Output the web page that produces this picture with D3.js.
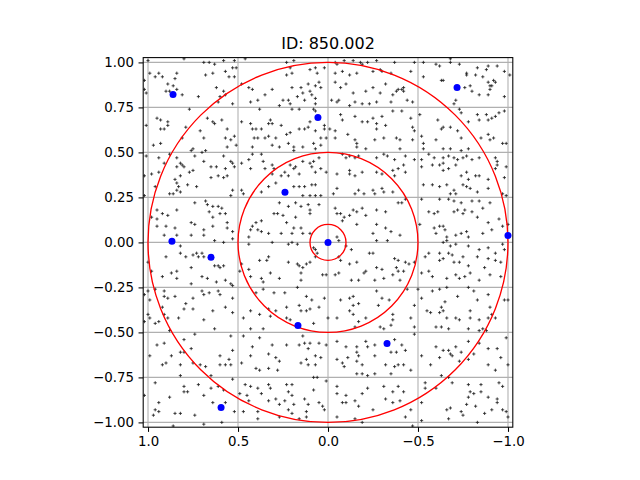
<!DOCTYPE html>
<html>
<head>
<meta charset="utf-8">
<script src="https://cdn.jsdelivr.net/npm/d3@7"></script>
<style>
  body { margin: 0; background: #fff; }
  text { font-family: "DejaVu Sans", sans-serif; }
</style>
</head>
<body>
<script>
// chart values
var title = "ID: 850.002";
var xTicks = [1.0, 0.5, 0.0, -0.5, -1.0];
var yTicks = [1.0, 0.75, 0.5, 0.25, 0.0, -0.25, -0.5, -0.75, -1.0];
var radii = [1.0, 0.5, 0.1];

var bluePoints = [[.861,.822],[-.717,.861],[.056,.694],[.239,.278],[.867,.006],[.65,-.083],
  [0,0],[-1.0,.039],[.167,-.461],[-.328,-.561],[.594,-.917]];

// background points
var noiseUpper = [
[1.00,1.01],[.80,1.02],[.69,1.00],[.66,1.00],[.63,.99],[.58,1.01],[.52,1.01],[.46,1.02],[.99,.94],[.94,.94],[.84,.94],[.68,.93],[.64,.94],[.53,.97],[.51,.97],[.55,.92],[.52,.92],[.57,.95],[1.02,.90],[.96,.92],[.92,.92],[.85,.91],[.89,.88],[.86,.87],[.84,.85],[.90,.84],[.88,.84],[.81,.82],[1.02,.85],[1.01,.83],[.72,.81],[.62,.86],[.58,.84],[.57,.82],[.60,.81],[.61,.78],[.53,.77],[.48,.88],[.44,.86],[.42,.85],[.43,.78],[.39,.79],[.38,.74],[.35,.82],[.77,.74],[.95,.69],[.93,.68],[.89,.67],[.89,.65],[.93,.63],[.91,.63],[.79,.64],[.71,.62],[.69,.58],[.67,.69],[.64,.67],[.63,.66],[.59,.68],[.56,.63],[.57,.58],[.54,.57],[.52,.59],[.81,.58],[.51,.54],[.48,.67],[.43,.66],[.42,.63],[.40,.63],[.37,.63],[.41,.58],[.39,.58],[.35,.58],[1.01,.65],[.97,.54],[.93,.55],[.76,.51],[.75,.52],[.70,.50],[.68,.51],[.56,.53],[.42,.53],[.37,.49],[1.01,.48],[.94,.47],[.88,.49],[.84,.47],[.82,.44],[.81,.43],[.84,.42],[.80,.42],[.77,.39],[.75,.40],[.74,.48],[.69,.45],[.65,.42],[.62,.42],[.58,.48],[.57,.41],[.54,.45],[.53,.44],[.52,.42],[.48,.44],[.44,.46],[.42,.49],[.36,.45],[.98,.38],[.94,.39],[.91,.44],[.85,.35],[.82,.37],[.65,.36],[.61,.37],[.58,.36],[.56,.37],[1.02,.37],[.43,.41],[.35,.41],
[.23,1.00],[.19,1.01],[-.04,1.00],[-.05,.99],[-.09,1.01],[-.14,1.01],[-.18,1.00],[-.19,.99],[-.22,1.00],[-.27,1.01],[-.30,.95],[-.29,.96],[.21,.97],[.20,.94],[.23,.93],[.10,.96],[.07,.97],[.06,.94],[.02,.97],[-.04,.94],[-.08,.95],[-.12,.93],[-.16,.94],[-.25,.95],[.31,.85],[.20,.86],[.15,.86],[.14,.83],[.11,.88],[.10,.84],[.09,.82],[.07,.87],[.05,.89],[.04,.86],[-.04,.89],[-.07,.86],[-.10,.88],[-.14,.83],[-.21,.84],[-.25,.86],[-.29,.83],[-.32,.88],[.25,.79],[.22,.79],[.21,.77],[.17,.81],[.13,.79],[.07,.80],[.07,.77],[-.02,.79],[-.05,.78],[-.06,.79],[-.12,.76],[-.15,.78],[-.19,.77],[-.23,.77],[-.27,.78],[.27,.76],[.20,.74],[.16,.74],[.08,.74],[.07,.73],[.32,.68],[.26,.65],[.33,.66],[.31,.66],[.16,.63],[.13,.63],[.11,.64],[.10,.67],[.02,.65],[.02,.63],[-.01,.63],[-.04,.62],[-.07,.71],[-.08,.68],[-.15,.70],[-.19,.67],[-.22,.67],[-.25,.69],[-.27,.66],[-.30,.70],[-.27,.63],[-.32,.65],[.33,.59],[.29,.58],[.23,.60],[.21,.61],[.07,.62],[.04,.58],[.01,.58],[-.04,.58],[-.11,.60],[-.15,.57],[-.16,.55],[-.16,.53],[-.21,.52],[-.26,.57],[-.31,.58],[.31,.54],[.27,.53],[.22,.55],[.19,.53],[.19,.51],[.14,.53],[.08,.55],[.07,.52],[.04,.54],[-.08,.49],[-.10,.47],[-.12,.48],[-.15,.47],[-.17,.48],[-.27,.47],[-.31,.49],[-.33,.48],[.31,.43],[.30,.41],[.21,.43],[.19,.41],[.18,.42],[.14,.45],[.10,.44],[.09,.42],[.08,.45],[.05,.47],[.04,.41],[.07,.39],[.31,.38],[.26,.37],[.24,.39],[.22,.37],[.16,.38],[.01,.39],[-.05,.38],[-.12,.40],[-.12,.38],[-.15,.37],[-.19,.39],[-.27,.39],[-.30,.38],
[-.37,1.00],[-.48,1.00],[-.53,1.00],[-.60,.99],[-.62,.98],[-.68,1.02],[-.68,1.00],[-.73,.99],[-.77,.94],[-.77,.93],[-.83,.97],[-.88,.96],[-.89,.98],[-.94,.98],[-.98,.95],[-1.01,.93],[-.35,.94],[-.46,.95],[-.53,.92],[-.63,.90],[-.64,.90],[-.76,.86],[-.79,.87],[-.82,.93],[-.86,.92],[-.89,.89],[-.90,.87],[-.92,.90],[-.93,.89],[-.91,.87],[-.36,.82],[-.38,.84],[-.39,.85],[-.41,.85],[-.42,.86],[-.42,.84],[-.35,.78],[-.44,.79],[-.47,.78],[-.71,.79],[-.70,.77],[-.80,.84],[-.84,.82],[-.89,.82],[-.90,.85],[-.98,.81],[-.41,.73],[-.36,.73],[-.46,.69],[-.47,.64],[-.48,.62],[-.51,.71],[-.61,.68],[-.64,.64],[-.63,.63],[-.68,.64],[-.73,.74],[-.74,.72],[-.72,.62],[-.74,.58],[-.78,.67],[-.83,.71],[-.84,.68],[-.88,.71],[-.89,.68],[-.91,.69],[-.93,.70],[-.95,.72],[-.98,.73],[-.38,.58],[-.40,.57],[-.47,.57],[-.52,.59],[-.53,.55],[-.60,.57],[-.64,.52],[-.68,.52],[-.74,.51],[-.78,.52],[-.85,.58],[-.89,.60],[-.90,.57],[-.92,.58],[-.97,.55],[-.99,.55],[-.40,.52],[-.53,.52],[-.37,.46],[-.43,.48],[-.48,.46],[-.52,.46],[-.56,.49],[-.59,.47],[-.64,.47],[-.64,.44],[-.67,.48],[-.70,.47],[-.72,.46],[-.75,.47],[-.77,.48],[-.80,.46],[-.84,.47],[-.93,.47],[-.94,.45],[-.39,.41],[-.36,.40],[-.37,.37],[-.42,.43],[-.43,.39],[-.52,.42],[-.58,.43],[-.62,.43],[-.64,.40],[-.67,.41],[-.71,.43],[-.74,.37],[-.77,.39],[-.78,.35],[-.82,.37],[-.84,.37],[-.89,.35],[-.93,.41],[-.94,.43],[-.99,.42],[-.98,.36]
];

var noiseMiddle = [
[.96,.31],[.84,.33],[.83,.31],[.78,.32],[.73,.31],[.84,.29],[.86,.27],[.82,.28],[.88,.27],[1.02,.26],[.74,.22],[.68,.23],[.67,.21],[.64,.20],[.61,.20],[.59,.19],[.54,.26],[.53,.29],[.48,.29],[.47,.27],[.37,.28],[.95,.18],[.98,.14],[.95,.13],[.92,.16],[.89,.15],[.84,.18],[.66,.17],[.64,.14],[.60,.16],[.57,.16],[.95,.09],[.90,.09],[.85,.08],[.76,.11],[.74,.10],[.69,.07],[.69,.04],[.64,.09],[.56,.11],[.56,.08],[.53,.06],[.40,.11],[.37,.12],[.43,.07],[.42,.09],[.39,.07],[.37,.06],[.91,.04],[.84,.04],[.76,.04],[.63,.01],[.58,.00],[.53,.02],[.44,.03],[.44,-.01],[.82,-.02],[.82,-.06],[.79,-.08],[.75,-.07],[.73,-.06],[.72,-.08],[.70,-.06],[.69,-.08],[.90,-.08],[.63,-.13],[.61,-.13],[.60,-.14],[.58,-.13],[.48,-.12],[.44,-.15],[.38,-.10],[.34,-.10],[1.00,-.11],[.98,-.16],[.92,-.19],[.87,-.17],[.84,-.16],[.84,-.20],[.76,-.14],[.70,-.19],[.67,-.20],[.62,-.22],[.57,-.21],[.54,-.23],[.49,-.16],[.43,-.19],[.37,-.20],[.36,-.22],[1.00,-.27],[.96,-.26],[.91,-.27],[.91,-.30],[.89,-.31],[.85,-.30],[1.02,-.29],[.99,-.32],[.76,-.23],[.75,-.31],[.70,-.27],[.69,-.29],[.66,-.28],[.61,-.27],[.60,-.29],[.53,-.31],[.53,-.24],[.40,-.28],[.36,-.26],[.79,-.34],
[.33,.31],[.29,.33],[.19,.31],[.16,.31],[.13,.31],[.09,.32],[.07,.32],[-.05,.30],[-.03,.27],[-.15,.27],[-.17,.29],[-.20,.27],[-.25,.29],[-.26,.27],[-.30,.30],[-.31,.28],[.14,.26],[.10,.26],[.07,.26],[.04,.26],[.27,.22],[.22,.20],[.18,.22],[.15,.20],[.11,.21],[.10,.18],[.05,.21],[.30,.16],[.28,.16],[.25,.15],[.18,.14],[.10,.16],[-.04,.19],[-.05,.16],[-.07,.16],[-.09,.14],[-.12,.15],[-.14,.18],[-.16,.17],[-.19,.19],[-.21,.15],[-.27,.18],[-.32,.17],[.23,.11],[.19,.08],[.15,.08],[.14,.05],[.10,.05],[.26,.05],[.20,.05],[.33,.05],[-.08,.12],[-.16,.10],[-.25,.05],[-.27,.10],[-.32,.08],[.31,.00],[.22,-.01],[.20,.00],[.17,-.01],[.08,-.03],[.07,-.04],[.06,-.06],[-.05,.03],[-.06,.01],[-.10,-.02],[-.13,-.04],[-.23,-.06],[-.25,-.06],[-.27,.01],[-.33,.01],[.33,-.08],[.22,-.11],[.17,-.12],[.16,-.13],[.14,-.14],[.12,-.12],[.10,-.11],[.07,-.08],[-.06,-.08],[-.07,-.10],[-.12,-.12],[-.16,-.11],[-.20,-.17],[-.27,-.14],[-.30,-.15],[.32,-.17],[.27,-.20],[.15,-.17],[.15,-.21],[.03,-.18],[.01,-.18],[-.04,-.18],[-.06,-.17],[-.13,-.21],[-.17,-.21],[-.21,-.16],[-.26,-.21],[-.31,-.20],[.30,-.28],[.24,-.28],[.17,-.25],[.12,-.30],[.09,-.32],[.02,-.31],[-.07,-.32],[-.12,-.31],[-.14,-.30],[-.27,-.27],[-.30,-.31],[-.34,-.32],[-.17,-.34],
[-.36,.28],[-.53,.32],[-.58,.32],[-.62,.31],[-.66,.32],[-.70,.29],[-.68,.27],[-.71,.27],[-.75,.32],[-.77,.31],[-.79,.30],[-.83,.28],[-.89,.30],[-.97,.27],[-.99,.26],[-.39,.22],[-.41,.22],[-.43,.24],[-.52,.24],[-.62,.24],[-.67,.24],[-.70,.23],[-.74,.22],[-.80,.23],[-.84,.23],[-.86,.19],[-.90,.22],[-.56,.17],[-.59,.16],[-.61,.17],[-.70,.17],[-.72,.18],[-.75,.16],[-.76,.18],[-.80,.17],[-.83,.14],[-.35,.06],[-.40,.04],[-.51,.10],[-.59,.08],[-.62,.09],[-.64,.09],[-.60,.05],[-.65,.07],[-.66,.03],[-.71,.04],[-.74,.05],[-.77,.06],[-.78,.03],[-.86,.05],[-.89,.11],[-.91,.07],[-.95,.13],[-.97,.09],[-1.00,.10],[-.64,.00],[-.66,.01],[-.56,-.06],[-.62,-.06],[-.67,-.06],[-.68,-.02],[-.71,-.01],[-.78,-.02],[-.84,-.04],[-.89,-.03],[-.93,-.06],[-.97,-.01],[-.98,-.04],[-.37,-.09],[-.39,-.10],[-.43,-.11],[-.45,-.12],[-.48,-.11],[-.38,-.14],[-.39,-.16],[-.42,-.16],[-.36,-.18],[-.40,-.21],[-.54,-.08],[-.62,-.10],[-.64,-.09],[-.69,-.07],[-.70,-.11],[-.73,-.11],[-.75,-.08],[-.78,-.13],[-.83,-.08],[-.89,-.09],[-.93,-.10],[-.96,-.11],[-.52,-.17],[-.56,-.16],[-.58,-.19],[-.66,-.20],[-.71,-.18],[-.73,-.20],[-.76,-.19],[-.79,-.17],[-.84,-.21],[-.87,-.14],[-.90,-.18],[-.96,-.19],[-.44,-.26],[-.50,-.26],[-.58,-.27],[-.62,-.26],[-.66,-.25],[-.72,-.30],[-.78,-.25],[-.81,-.27],[-.83,-.32],[-.89,-.29],[-.98,-.32],[-1.00,-.32],[-.52,-.31],[-.65,-.33]
];

var noiseLower = [
[1.00,-.40],[.99,-.42],[.96,-.45],[.94,-.44],[.92,-.36],[.91,-.40],[.89,-.42],[.80,-.37],[.75,-.37],[.69,-.43],[.64,-.38],[.57,-.36],[.53,-.39],[.47,-.42],[.43,-.38],[.38,-.40],[.36,-.48],[1.02,-.44],[.88,-.49],[.83,-.42],[.95,-.57],[.91,-.56],[.80,-.54],[.74,-.51],[.63,-.48],[.54,-.52],[.47,-.52],[.43,-.48],[.38,-.53],[.42,-.58],[.99,-.63],[.92,-.68],[.90,-.67],[.87,-.63],[.82,-.61],[.80,-.61],[.76,-.59],[.82,-.68],[.75,-.67],[.71,-.68],[.68,-.69],[.60,-.63],[.60,-.68],[.57,-.68],[.55,-.65],[.53,-.60],[.54,-.68],[.48,-.67],[.43,-.63],[.40,-.70],[.38,-.71],[.82,-.74],[.65,-.74],[.96,-.78],[.88,-.86],[.80,-.80],[.80,-.83],[.78,-.83],[.72,-.79],[.69,-.85],[.65,-.81],[.61,-.80],[.58,-.82],[.53,-.76],[.46,-.79],[.43,-.80],[.39,-.81],[.37,-.84],[.49,-.84],[.45,-.85],[.44,-.88],[1.02,-.85],[.94,-.89],[.96,-.93],[.94,-.94],[.85,-.95],[.82,-.95],[.74,-.96],[.64,-.89],[.57,-.89],[.52,-.94],[.47,-.94],[.39,-.94],[.39,-.98],[.97,-.96],[.86,-1.02],[.59,-1.00],[.69,-1.01],
[.33,-.37],[.23,-.36],[.16,-.35],[.15,-.38],[.12,-.38],[.10,-.37],[.05,-.36],[.00,-.42],[-.05,-.42],[-.12,-.38],[-.14,-.35],[-.14,-.40],[-.17,-.44],[-.21,-.42],[-.28,-.35],[-.29,-.47],[-.31,-.48],[.32,-.41],[.29,-.38],[.23,-.42],[.21,-.43],[.08,-.45],[.14,-.52],[-.15,-.47],[.31,-.57],[.23,-.57],[.16,-.57],[.13,-.56],[.10,-.56],[.11,-.59],[.05,-.56],[.01,-.57],[-.05,-.55],[-.10,-.58],[-.16,-.58],[-.21,-.55],[-.22,-.58],[-.26,-.57],[.33,-.62],[.29,-.64],[.27,-.66],[.15,-.67],[.12,-.65],[.11,-.68],[.07,-.63],[.04,-.64],[.07,-.68],[-.05,-.65],[-.08,-.67],[-.09,-.69],[-.11,-.64],[-.16,-.61],[-.17,-.63],[-.19,-.68],[-.26,-.63],[-.32,-.68],[-.16,-.66],[.33,-.70],[.28,-.71],[.08,-.75],[.06,-.75],[-.16,-.73],[-.19,-.73],[-.22,-.74],[-.26,-.73],[.33,-.79],[.32,-.81],[.23,-.79],[.20,-.79],[.22,-.83],[.20,-.85],[.27,-.90],[.29,-.87],[.24,-.88],[.19,-.90],[.13,-.87],[.11,-.90],[.08,-.82],[.05,-.89],[.03,-.91],[.01,-.77],[-.05,-.80],[-.05,-.84],[-.08,-.89],[-.10,-.89],[-.10,-.85],[-.15,-.88],[-.17,-.91],[-.19,-.84],[-.22,-.81],[-.25,-.93],[-.31,-.80],[-.32,-.87],[.33,-.88],[.22,-.93],[.20,-.95],[.12,-.94],[.12,-.97],[.02,-.93],[-.05,-.97],[-.15,-.98],[-.19,-1.00],[.16,-.98],[.27,-.97],
[-.36,-.40],[-.36,-.43],[-.35,-.46],[-.46,-.42],[-.48,-.35],[-.48,-.47],[-.55,-.38],[-.57,-.39],[-.62,-.39],[-.63,-.36],[-.64,-.38],[-.60,-.47],[-.63,-.47],[-.67,-.48],[-.66,-.42],[-.71,-.42],[-.73,-.43],[-.79,-.38],[-.79,-.42],[-.84,-.43],[-.89,-.42],[-.90,-.36],[-.91,-.40],[-.93,-.42],[-.78,-.48],[-.84,-.49],[-.86,-.48],[-.88,-.49],[-.48,-.51],[-.37,-.54],[-.41,-.57],[-.35,-.61],[-.38,-.61],[-.43,-.60],[-.52,-.63],[-.60,-.58],[-.62,-.64],[-.64,-.60],[-.67,-.60],[-.68,-.62],[-.69,-.63],[-.71,-.58],[-.74,-.61],[-.78,-.55],[-.84,-.56],[-.89,-.59],[-.94,-.59],[-.96,-.64],[-.99,-.53],[-1.00,-.68],[-.93,-.71],[-.89,-.68],[-.81,-.62],[-.37,-.69],[-.39,-.68],[-.42,-.68],[-.35,-.73],[-.46,-.71],[-.57,-.68],[-.63,-.74],[-.67,-.75],[-.73,-.66],[-.78,-.65],[-.39,-.80],[-.36,-.83],[-.42,-.83],[-.54,-.78],[-.54,-.81],[-.60,-.81],[-.69,-.78],[-.78,-.79],[-.79,-.83],[-.81,-.84],[-.85,-.83],[-.85,-.79],[-.95,-.78],[-.97,-.80],[-.89,-.86],[-.94,-.87],[-.36,-.89],[-.40,-.88],[-.46,-.93],[-.52,-.89],[-.66,-.93],[-.68,-.92],[-.74,-.94],[-.75,-.96],[-.78,-.86],[-.77,-.90],[-.82,-.91],[-.87,-.95],[-.91,-.93],[-.94,-.89],[-.97,-.93],[-.99,-.94],[-1.00,-.97],[-.43,-.97],[-.47,-1.02],[-.52,-.99],[-.67,-.98],[-.83,-1.00]
];

var noise = noiseUpper.concat(noiseMiddle, noiseLower);

// layout (matplotlib default figure, square axes)
var svgWidth = 640;
var svgHeight = 480;
var box = { left: 143.2, top: 57.6, size: 369.6 };
var lim = 1.0267;
var pt = 96 / 72;

var svg = d3.select("body")
  .append("svg")
  .attr("width", svgWidth)
  .attr("height", svgHeight);

svg.append("rect").attr("width", svgWidth).attr("height", svgHeight).attr("fill", "#fff");

var x = d3.scaleLinear().domain([lim, -lim]).range([box.left, box.left + box.size]);
var y = d3.scaleLinear().domain([-lim, lim]).range([box.top + box.size, box.top]);

svg.append("clipPath").attr("id", "plotClip")
  .append("rect")
  .attr("x", box.left).attr("y", box.top)
  .attr("width", box.size).attr("height", box.size);

// grid
var grid = svg.append("g").attr("stroke", "#b0b0b0").attr("stroke-width", 0.8 * pt);
grid.selectAll(".gx").data(xTicks).enter().append("line")
  .attr("x1", d => x(d)).attr("x2", d => x(d))
  .attr("y1", box.top).attr("y2", box.top + box.size);
grid.selectAll(".gy").data(yTicks).enter().append("line")
  .attr("y1", d => y(d)).attr("y2", d => y(d))
  .attr("x1", box.left).attr("x2", box.left + box.size);

var plot = svg.append("g").attr("clip-path", "url(#plotClip)");

// small plus markers
plot.append("g")
  .selectAll("path")
  .data(noise)
  .enter().append("path")
  .attr("transform", d => `translate(${x(d[0])},${y(d[1])})`)
  .attr("d", "M-1.6,0H1.6M0,-1.6V1.6")
  .attr("stroke", "#1a1a1a")
  .attr("stroke-width", 0.8)
  .attr("fill", "none");

// red rings
plot.append("g")
  .selectAll("circle")
  .data(radii)
  .enter().append("circle")
  .attr("cx", x(0))
  .attr("cy", y(0))
  .attr("r", d => Math.abs(x(d) - x(0)))
  .attr("fill", "none")
  .attr("stroke", "red")
  .attr("stroke-width", 1.0 * pt);

// blue points
plot.append("g")
  .selectAll("circle")
  .data(bluePoints)
  .enter().append("circle")
  .attr("cx", d => x(d[0]))
  .attr("cy", d => y(d[1]))
  .attr("r", 3.5)
  .attr("fill", "blue");

// axes
var xAxis = d3.axisBottom(x).tickValues(xTicks).tickFormat(d3.format(".1f"))
  .tickSize(3.5 * pt).tickPadding(3.5 * pt);
var yAxis = d3.axisLeft(y).tickValues(yTicks).tickFormat(d3.format(".2f"))
  .tickSize(3.5 * pt).tickPadding(3.5 * pt);

var gx = svg.append("g").attr("transform", `translate(0,${box.top + box.size})`).call(xAxis);
var gy = svg.append("g").attr("transform", `translate(${box.left},0)`).call(yAxis);

[gx, gy].forEach(function(g) {
  g.select(".domain").remove();
  g.selectAll(".tick line").attr("stroke", "#000").attr("stroke-width", 0.8 * pt);
  g.selectAll(".tick text")
    .attr("fill", "#000")
    .style("font-family", "'DejaVu Sans', sans-serif")
    .style("font-size", "13.33px");
});

// spines
svg.append("rect")
  .attr("x", box.left).attr("y", box.top)
  .attr("width", box.size).attr("height", box.size)
  .attr("fill", "none")
  .attr("stroke", "#000")
  .attr("stroke-width", 0.8 * pt);

// title
svg.append("text")
  .attr("x", box.left + box.size / 2)
  .attr("y", box.top - 6 * pt - 0.5)
  .attr("text-anchor", "middle")
  .style("font-size", "16px")
  .attr("fill", "#000")
  .text(title);
</script>
</body>
</html>
